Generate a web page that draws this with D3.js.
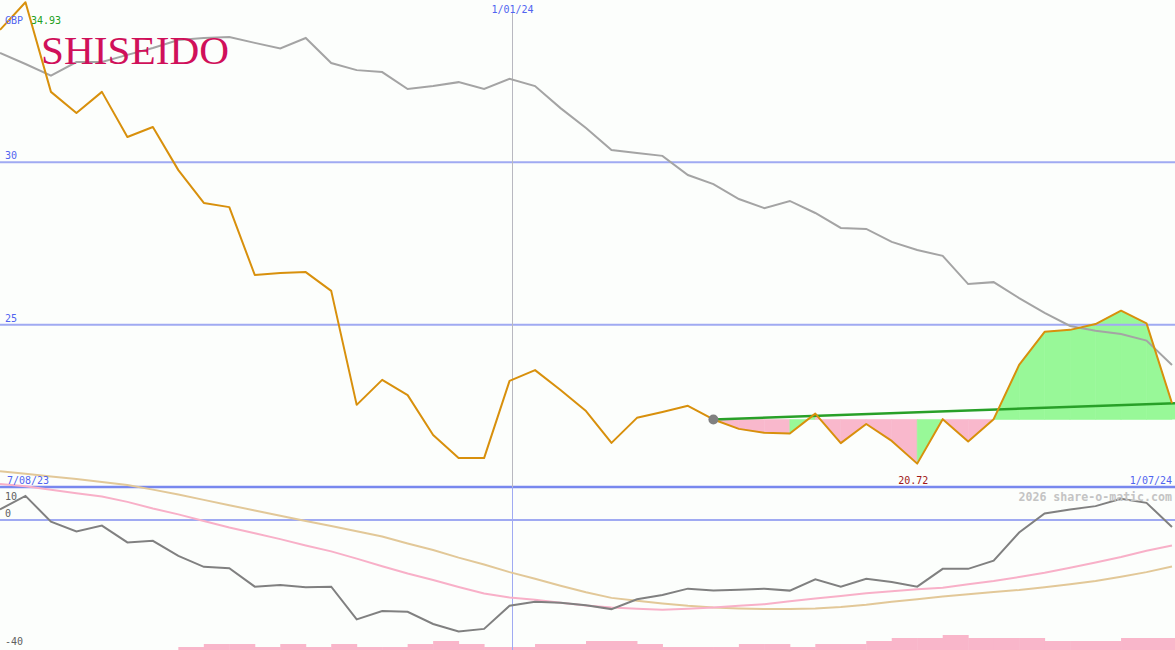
<!DOCTYPE html>
<html>
<head>
<meta charset="utf-8">
<script src="https://cdn.jsdelivr.net/npm/d3@7"></script>
<style>
  html, body { margin: 0; padding: 0; background: #fcfefc; }
  svg { display: block; }
  text { font-family: "DejaVu Sans Mono", monospace; }
</style>
</head>
<body>
<svg id="chart" width="1175" height="650"></svg>
<script>
// ---------- data ----------
const dates = ["2023-08-13","2023-08-20","2023-08-27","2023-09-03","2023-09-10","2023-09-17","2023-09-24",
  "2023-10-01","2023-10-08","2023-10-15","2023-10-22","2023-10-29","2023-11-05","2023-11-12","2023-11-19",
  "2023-11-26","2023-12-03","2023-12-10","2023-12-17","2023-12-24","2023-12-31","2024-01-07","2024-01-14",
  "2024-01-21","2024-01-28","2024-02-04","2024-02-11","2024-02-18","2024-02-25","2024-03-03","2024-03-10",
  "2024-03-17","2024-03-24","2024-03-31","2024-04-07","2024-04-14","2024-04-21","2024-04-28","2024-05-05",
  "2024-05-12","2024-05-19","2024-05-26","2024-06-02","2024-06-09","2024-06-16","2024-06-23","2024-06-30"];

const price = [34.08,34.93,32.17,31.52,32.17,30.78,31.09,29.76,28.75,28.62,26.53,26.59,26.62,26.04,22.53,
  23.30,22.83,21.60,20.89,20.89,23.27,23.60,22.99,22.34,21.36,22.13,22.31,22.50,22.08,21.79,21.67,21.65,
  22.26,21.35,21.94,21.42,20.72,22.09,21.40,22.09,23.76,24.78,24.84,25.02,25.43,25.04,22.58];

const priceAvg = [33.37,33.03,32.67,33.09,33.09,33.31,33.52,33.77,33.83,33.86,33.68,33.51,33.83,33.06,32.84,
  32.78,32.26,32.35,32.47,32.26,32.57,32.35,31.67,31.06,30.38,30.29,30.20,29.61,29.33,28.87,28.59,28.81,
  28.44,27.98,27.95,27.55,27.30,27.12,26.25,26.31,25.82,25.36,24.96,24.81,24.71,24.51,23.76];

const oscillator = [3.2,7.3,-0.5,-3.5,-1.7,-6.8,-6.3,-10.9,-14.2,-14.6,-20.2,-19.7,-20.4,-20.2,-30.1,-27.6,
  -27.8,-31.5,-33.8,-33.0,-26.0,-24.8,-25.1,-25.8,-27.0,-24.0,-22.7,-20.8,-21.4,-21.1,-20.8,-21.4,-18.0,
  -20.2,-17.8,-18.8,-20.2,-14.8,-14.8,-12.3,-3.8,2.0,3.2,4.2,6.4,5.2,-2.1];

const oscFast = [10.9,10.2,9.2,8.1,7.1,5.5,3.5,1.7,-0.3,-2.3,-4.0,-5.8,-7.7,-9.5,-11.7,-14.0,-16.2,-18.2,
  -20.3,-22.3,-23.5,-24.2,-25.1,-25.9,-26.5,-26.9,-27.2,-26.9,-26.5,-26.0,-25.5,-24.6,-23.8,-23.0,-22.2,
  -21.6,-21.0,-20.5,-19.5,-18.5,-17.3,-16.0,-14.5,-12.9,-11.2,-9.3,-7.7];

const oscSlow = [14.8,14.0,13.2,12.4,11.5,10.6,9.2,7.7,6.1,4.5,2.9,1.3,-0.3,-1.8,-3.4,-5.0,-7.1,-9.1,-11.4,
  -13.5,-15.8,-17.8,-19.9,-21.9,-23.6,-24.5,-25.3,-26.0,-26.5,-26.8,-27.0,-27.0,-26.8,-26.4,-25.7,-24.8,
  -24.0,-23.2,-22.5,-21.8,-21.2,-20.4,-19.5,-18.5,-17.2,-15.8,-14.1];

const volume = [0,0,0,0,0,0,0,1,2,2,1,2,1,2,1,1,2,3,2,1,1,2,2,3,3,2,1,1,1,2,2,1,2,2,3,4,4,5,4,4,4,3,3,3,4,4,4];

// trend segment: from anchor week to last week; fill colour per week segment after anchor (1 = up/green)
const trendStart = 28;
const segmentUp = [0,0,0,1,0,0,0,0,1,0,0,1,1,1,1,1,1,1];

const priceGrid = [30, 25];
const oscLabels = [10, 0, -40];
const markerDate = "2024-01-01";
const markerLabel = "1/01/24";
const edgeLabels = ["7/08/23", "1/07/24"];
const currency = "GBP";
const maxPrice = 34.93, minPrice = 20.72;
const company = "SHISEIDO";
const credit = "2026 share-o-matic.com";

// ---------- scales ----------
const W = 1175, H = 650;
const parse = d3.utcParse("%Y-%m-%d");
const dts = dates.map(parse);
const x = d3.scaleUtc().domain([dts[0], dts[dts.length - 1]]).range([0, 1172]);
const y = d3.scaleLinear().domain([20, 35]).range([487, 0]);
const yo = d3.scaleLinear().domain([-40, 10]).range([652, 487]);
const yv = d3.scaleLinear().domain([0, 5]).range([650, 635]);

const svg = d3.select("#chart");
svg.append("rect").attr("width", W).attr("height", H).attr("fill", "#fcfefc");

// ---------- lower panel: volume ----------
const step = x(dts[1]) - x(dts[0]);
svg.append("g").selectAll("rect").data(volume.map((v, i) => ({v, d: dts[i]})).filter(o => o.v > 0))
  .join("rect")
  .attr("x", o => x(o.d))
  .attr("width", o => Math.min(step + 0.5, W - x(o.d)))
  .attr("y", o => yv(o.v))
  .attr("height", o => yv(0) - yv(o.v))
  .attr("fill", "#f9b6ca");

// ---------- fill between price and anchor level ----------
const base = price[trendStart];
const fillG = svg.append("g");
segmentUp.forEach((up, k) => {
  const i = trendStart + k;
  const pts = [[x(dts[i]), y(base)], [x(dts[i]), y(price[i])], [x(dts[i + 1]), y(price[i + 1])], [x(dts[i + 1]), y(base)]];
  fillG.append("path").attr("d", d3.line()(pts) + "Z")
    .attr("fill", up ? "#98f898" : "#f9b8cc").attr("stroke", up ? "#98f898" : "#f9b8cc").attr("stroke-width", 0.6);
});
// continue last segment to right edge
{
  const last = dts.length - 1;
  const pts = [[x(dts[last]), y(base)], [x(dts[last]), y(price[last])], [W, y(price[last])], [W, y(base)]];
  fillG.append("path").attr("d", d3.line()(pts) + "Z").attr("fill", segmentUp[segmentUp.length - 1] ? "#98f898" : "#f9b8cc");
}

// ---------- grid / separators ----------
svg.append("g").selectAll("line").data(priceGrid).join("line")
  .attr("x1", 0).attr("x2", W).attr("y1", d => y(d)).attr("y2", d => y(d))
  .attr("stroke", "#a0aaf2").attr("stroke-width", 2);
svg.append("line").attr("x1", 0).attr("x2", W).attr("y1", y(20)).attr("y2", y(20))
  .attr("stroke", "#7888ee").attr("stroke-width", 2.5);
svg.append("line").attr("x1", 0).attr("x2", W).attr("y1", yo(0)).attr("y2", yo(0))
  .attr("stroke", "#a0aaf2").attr("stroke-width", 2);
const xm = Math.round(x(parse(markerDate))) - 0.5;
svg.append("line").attr("x1", xm).attr("x2", xm).attr("y1", 12).attr("y2", y(20))
  .attr("stroke", "#b8b8c0").attr("stroke-width", 1);
svg.append("line").attr("x1", xm).attr("x2", xm).attr("y1", y(20)).attr("y2", H)
  .attr("stroke", "#a0aaf2").attr("stroke-width", 1);

// ---------- lower panel lines ----------
const lineO = arr => d3.line().x((d, i) => x(dts[i])).y(d => yo(d))(arr);
svg.append("path").attr("d", lineO(oscSlow)).attr("fill", "none").attr("stroke", "#e2c898").attr("stroke-width", 2);
svg.append("path").attr("d", lineO(oscFast)).attr("fill", "none").attr("stroke", "#f8b0c8").attr("stroke-width", 2);
svg.append("path").attr("d", lineO(oscillator)).attr("fill", "none").attr("stroke", "#808080").attr("stroke-width", 2);

// ---------- upper panel lines ----------
const lineP = arr => d3.line().x((d, i) => x(dts[i])).y(d => y(d))(arr);
svg.append("path").attr("d", lineP(priceAvg)).attr("fill", "none").attr("stroke", "#a4a4a4").attr("stroke-width", 2);

const last = dts.length - 1;
svg.append("line")
  .attr("x1", x(dts[trendStart])).attr("y1", y(price[trendStart]))
  .attr("x2", W).attr("y2", y(price[trendStart] + (price[last] - price[trendStart]) * (x.invert(W) - dts[trendStart]) / (dts[last] - dts[trendStart])))
  .attr("stroke", "#28a028").attr("stroke-width", 2.5);

svg.append("path").attr("d", lineP(price)).attr("fill", "none").attr("stroke", "#d8900c").attr("stroke-width", 2)
  .attr("stroke-linejoin", "round");

svg.append("circle").attr("cx", x(dts[trendStart])).attr("cy", y(price[trendStart])).attr("r", 5)
  .attr("fill", "#808080");

// ---------- texts ----------
svg.append("text").attr("x", 41).attr("y", 64).text(company)
  .attr("textLength", 188).attr("lengthAdjust", "spacingAndGlyphs")
  .style("font-family", "'Liberation Serif', 'DejaVu Serif', serif").style("font-size", "40px")
  .attr("fill", "#d0105a");

svg.append("text").attr("x", 5).attr("y", 24).text(currency).attr("fill", "#5064f0").style("font-size", "10px");
svg.append("text").attr("x", 31).attr("y", 24).text(maxPrice.toFixed(2)).attr("fill", "#22a022").style("font-size", "10px");

svg.append("g").selectAll("text").data(priceGrid).join("text")
  .attr("x", 5).attr("y", d => y(d) - 3).text(d => d).attr("fill", "#5064f0").style("font-size", "10px");

svg.append("text").attr("x", xm).attr("y", 13).attr("text-anchor", "middle").text(markerLabel)
  .attr("fill", "#5064f0").style("font-size", "10px");

svg.append("text").attr("x", 7).attr("y", 484).text(edgeLabels[0]).attr("fill", "#5064f0").style("font-size", "10px");
svg.append("text").attr("x", 1172).attr("y", 484).attr("text-anchor", "end").text(edgeLabels[1]).attr("fill", "#5064f0").style("font-size", "10px");

const minIdx = price.indexOf(minPrice);
svg.append("text").attr("x", x(dts[minIdx]) - 4).attr("y", 484).attr("text-anchor", "middle").text(minPrice.toFixed(2))
  .attr("fill", "#a01818").style("font-size", "10px");

svg.append("text").attr("x", 1172).attr("y", 501).attr("text-anchor", "end").text(credit)
  .attr("fill", "#c4c4c4").style("font-size", "11.6px").style("font-weight", "bold");

const oscLabelY = {10: 500, 0: 517, "-40": 645};
svg.append("g").selectAll("text").data(oscLabels).join("text")
  .attr("x", 5).attr("y", d => oscLabelY[d]).text(d => d).attr("fill", "#606060").style("font-size", "10px");
</script>
</body>
</html>
